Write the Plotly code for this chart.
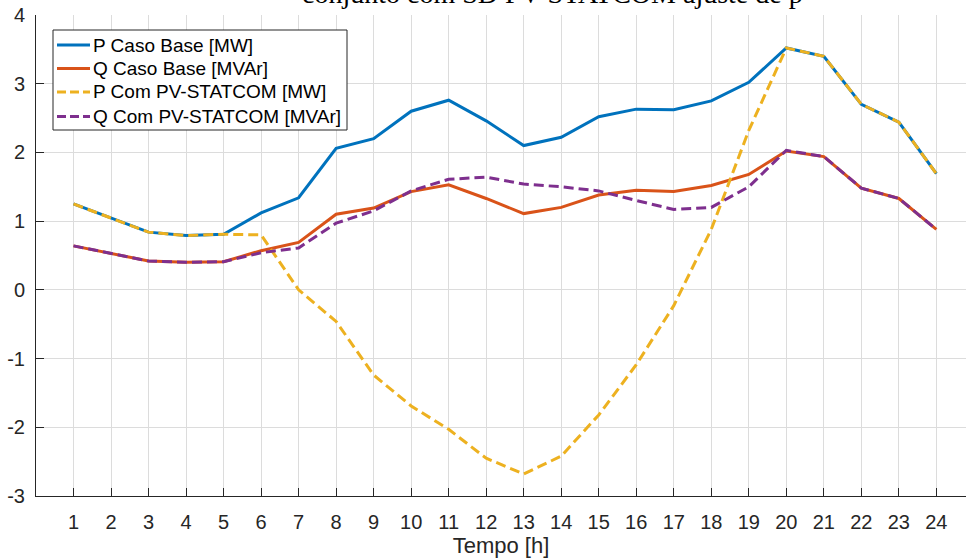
import plotly.graph_objects as go

hours = list(range(1, 25))
p_base = [1.25, 1.04, 0.84, 0.79, 0.81, 1.12, 1.34, 2.06, 2.20, 2.60, 2.76, 2.46,
          2.10, 2.22, 2.52, 2.63, 2.62, 2.75, 3.02, 3.52, 3.40, 2.70, 2.44, 1.69]
q_base = [0.64, 0.53, 0.42, 0.40, 0.41, 0.57, 0.69, 1.10, 1.19, 1.43, 1.53, 1.33,
          1.11, 1.20, 1.38, 1.45, 1.43, 1.52, 1.68, 2.02, 1.94, 1.48, 1.33, 0.88]
p_pv = [1.25, 1.04, 0.84, 0.79, 0.81, 0.80, 0.00, -0.46, -1.24, -1.69, -2.03, -2.45,
        -2.68, -2.42, -1.82, -1.09, -0.23, 0.88, 2.32, 3.52, 3.40, 2.70, 2.44, 1.69]
q_pv = [0.64, 0.53, 0.42, 0.40, 0.41, 0.54, 0.61, 0.97, 1.15, 1.44, 1.61, 1.64,
        1.54, 1.50, 1.44, 1.30, 1.17, 1.20, 1.50, 2.03, 1.94, 1.48, 1.33, 0.88]
y_ticks = [-3, -2, -1, 0, 1, 2, 3, 4]
y_labels = ["-3", "-2", "-1", "0", "1", "2", "3", "4"]

names = ["P Caso Base [MW]", "Q Caso Base [MVAr]",
         "P Com PV-STATCOM [MW]", "Q Com PV-STATCOM [MVAr]"]
colors = ["#0072BD", "#D95319", "#EDB120", "#7E2F8E"]
dashes = ["solid", "solid", "10px,5px", "10px,5px"]
series = [p_base, q_base, p_pv, q_pv]
title_text = "conjunto com SD PV-STATCOM ajuste de p"

W, H = 966, 558
ML, MR, MT, MB = 36, 0, 15, 62
PW, PH = W - ML - MR, H - MT - MB


def px_x(px):
    return (px - ML) / PW


def px_y(py):
    return 1 - (py - MT) / PH


fig = go.Figure()
for name, ys, c, d in zip(names, series, colors, dashes):
    fig.add_trace(go.Scatter(x=hours, y=ys, mode="lines", name=name,
                             showlegend=False,
                             line=dict(color=c, width=3, dash=d)))

# legend box (layout element, built from names/colors/dashes)
shapes = [dict(type="rect", xref="paper", yref="paper",
               x0=px_x(53), x1=px_x(347), y0=px_y(130), y1=px_y(30),
               line=dict(color="#262626", width=1), fillcolor="white", layer="above")]
annotations = []
row_y = [45, 68.5, 92, 116.5]
for name, c, d, ry in zip(names, colors, dashes, row_y):
    shapes.append(dict(type="line", xref="paper", yref="paper",
                       x0=px_x(57), x1=px_x(90), y0=px_y(ry), y1=px_y(ry),
                       line=dict(color=c, width=3, dash=("9px,4px" if d != "solid" else "solid")),
                       layer="above"))
    annotations.append(dict(text=name, xref="paper", yref="paper",
                            x=px_x(91), y=px_y(ry), xanchor="left", yanchor="middle",
                            showarrow=False,
                            font=dict(family="Liberation Sans, Arial, sans-serif",
                                      size=19, color="#000000")))

annotations.append(dict(text=title_text, xref="paper", yref="paper",
                        x=px_x(300), y=1, xanchor="left", yanchor="bottom", yshift=4,
                        showarrow=False,
                        font=dict(family="Liberation Serif, Times New Roman, serif",
                                  size=28, color="#000000")))

fig.update_layout(
    width=W, height=H,
    margin=dict(l=ML, r=MR, t=MT, b=MB),
    paper_bgcolor="white", plot_bgcolor="white",
    font=dict(family="Liberation Sans, Arial, sans-serif", size=20, color="#262626"),
    showlegend=False,
    xaxis=dict(range=[0, 24.79], tickmode="array", tickvals=hours,
               ticktext=[str(h) for h in hours],
               showgrid=True, gridcolor="#dcdcdc", gridwidth=1,
               showline=True, linecolor="#262626", linewidth=1,
               ticks="inside", ticklen=8, tickcolor="#262626",
               ticklabelstandoff=8,
               zeroline=False, mirror=False,
               title=dict(text="Tempo [h]", font=dict(size=22), standoff=2)),
    yaxis=dict(range=[-3, 4], tickmode="array", tickvals=y_ticks, ticktext=y_labels,
               showgrid=True, gridcolor="#dcdcdc", gridwidth=1,
               showline=True, linecolor="#262626", linewidth=1,
               ticks="inside", ticklen=8, tickcolor="#262626",
               ticklabelstandoff=6,
               zeroline=False, mirror=False),
    shapes=shapes,
    annotations=annotations,
)

fig.write_html("out.html")
